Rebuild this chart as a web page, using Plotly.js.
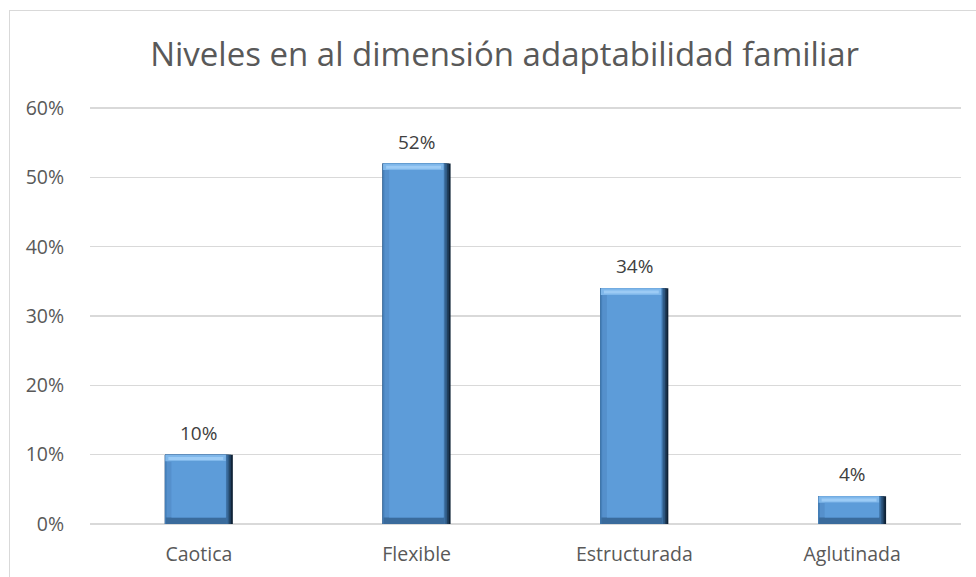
<!DOCTYPE html>
<html>
<head>
<meta charset="utf-8">
<script src="https://cdn.plot.ly/plotly-3.0.1.min.js"></script>
<style>
html,body{margin:0;padding:0;background:#fff;}
#wrap{position:relative;width:976px;height:577px;overflow:hidden;}
#frame{position:absolute;left:9px;top:10px;width:1000px;height:600px;border-left:1px solid #d9d9d9;border-top:1px solid #d9d9d9;}
#chart{position:absolute;left:0;top:0;width:976px;height:577px;}
</style>
</head>
<body>
<div id="wrap"><div id="frame"></div><div id="chart"></div></div>
<script>
const categories = ["Caotica", "Flexible", "Estructurada", "Aglutinada"];
const values = [0.10, 0.52, 0.34, 0.04];
const labels = ["10%", "52%", "34%", "4%"];
const yTickVals = [0, 0.1, 0.2, 0.3, 0.4, 0.5, 0.6];
const yTickText = ["0%", "10%", "20%", "30%", "40%", "50%", "60%"];

const W = 0.312;
const B = 0.0095; // bevel height in value units
const font = "'Open Sans', sans-serif";

function bar(opts, color) {
  return Object.assign({
    type: "bar", x: categories, hoverinfo: "skip", showlegend: false,
    marker: {color: color, line: {width: 0}}
  }, opts);
}

const traces = [
  bar({y: values, width: W, offset: -W/2}, "#0f2236"),
  bar({y: values, width: W - 0.008, offset: -W/2}, "#1f3d5c"),
  bar({y: values, width: W - 0.016, offset: -W/2}, "#2f5a84"),
  bar({y: values, width: W - 0.024, offset: -W/2}, "#3f73a6"),
  bar({y: values, width: W - 0.032, offset: -W/2}, "#4680ba"),
  bar({y: values, width: W - 0.040, offset: -W/2 + 0.008}, "#5590cc"),
  bar({y: values.map(v => B), base: values.map(v => 0), width: W - 0.032, offset: -W/2 + 0.004}, "#3a6b9c"),
  bar({y: values.map(v => B), base: values.map(v => v - B), width: W - 0.034, offset: -W/2 + 0.002}, "#7fb7ea"),
  bar({y: values.map(v => B * 0.45), base: values.map(v => v - B * 0.8), width: W - 0.06, offset: -W/2 + 0.016}, "#9ccbf5"),
  bar({y: values.map(v => v - 2 * B), base: values.map(v => B), width: W - 0.062, offset: -W/2 + 0.030}, "#5d9cd9")
];

const annotations = categories.map((c, i) => ({
  x: c, y: values[i], text: labels[i], showarrow: false, yanchor: "bottom", yshift: 7,
  font: {family: font, size: 19, color: "#404040"}
}));

const layout = {
  width: 976, height: 577,
  paper_bgcolor: "rgba(0,0,0,0)", plot_bgcolor: "rgba(0,0,0,0)",
  margin: {l: 90, r: 15, t: 107, b: 53},
  barmode: "overlay",
  title: {text: "Niveles en al dimensión adaptabilidad familiar", x: 0.517, xref: "container", xanchor: "center",
          y: 0.905, yref: "container", yanchor: "middle",
          font: {family: font, size: 33, color: "#595959"}},
  xaxis: {type: "category", showgrid: false, zeroline: false, showline: false,
          ticks: "outside", ticklen: 13, tickcolor: "rgba(0,0,0,0)",
          tickfont: {family: font, size: 19.5, color: "#595959"}, fixedrange: true},
  yaxis: {range: [0, 0.6015], tickvals: yTickVals, ticktext: yTickText,
          showgrid: true, gridcolor: "#d9d9d9", gridwidth: 1.5,
          zeroline: true, zerolinecolor: "#d9d9d9", zerolinewidth: 1.5, showline: false,
          ticks: "outside", ticklen: 21, tickcolor: "rgba(0,0,0,0)",
          tickfont: {family: font, size: 19.5, color: "#595959"}, fixedrange: true},
  annotations: annotations,
  font: {family: font}
};

Plotly.newPlot("chart", traces, layout, {displayModeBar: false, staticPlot: true});
</script>
</body>
</html>
